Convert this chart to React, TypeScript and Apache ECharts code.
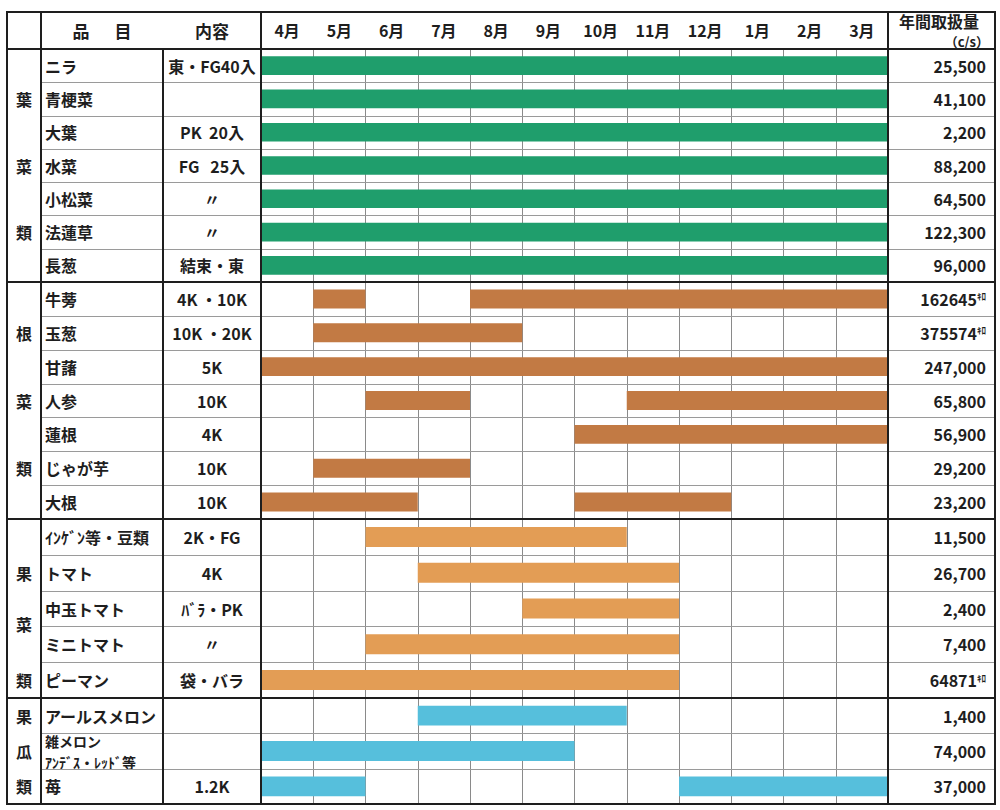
import React, { useEffect, useRef } from 'react';
import * as echarts from 'echarts';

const months = ['4月', '5月', '6月', '7月', '8月', '9月', '10月', '11月', '12月', '1月', '2月', '3月'];

// 葉菜類
const leafChars = ['', '葉', '', '菜', '', '類', ''];
const leafNames = ['ニラ', '青梗菜', '大葉', '水菜', '小松菜', '法蓮草', '長葱'];
const leafContents = ['東・FG40入', '', 'PK  20入', 'FG   25入', '〃', '〃', '結束・東'];
const leafAmounts = ['25,500', '41,100', '2,200', '88,200', '64,500', '122,300', '96,000'];
const leafPeriods = [[[0, 12]], [[0, 12]], [[0, 12]], [[0, 12]], [[0, 12]], [[0, 12]], [[0, 12]]];

// 根菜類
const rootChars = ['', '根', '', '菜', '', '類', ''];
const rootNames = ['牛蒡', '玉葱', '甘藷', '人参', '蓮根', 'じゃが芋', '大根'];
const rootContents = ['4K ・10K', '10K ・20K', '5K', '10K', '4K', '10K', '10K'];
const rootAmounts = ['162645ｷﾛ', '375574ｷﾛ', '247,000', '65,800', '56,900', '29,200', '23,200'];
const rootPeriods = [[[1, 2], [4, 12]], [[1, 5]], [[0, 12]], [[2, 4], [7, 12]], [[6, 12]], [[1, 4]], [[0, 3], [6, 9]]];

// 果菜類
const fruitChars = ['', '果', '菜↓', '', '類'];
const fruitNames = ['ｲﾝｹﾞﾝ等・豆類', 'トマト', '中玉トマト', 'ミニトマト', 'ピーマン'];
const fruitContents = ['2K・FG', '4K', 'ﾊﾞﾗ・PK', '〃', '袋・バラ'];
const fruitAmounts = ['11,500', '26,700', '2,400', '7,400', '64871ｷﾛ'];
const fruitPeriods = [[[2, 7]], [[3, 8]], [[5, 8]], [[2, 8]], [[0, 8]]];

// 果瓜類
const melonChars = ['果', '瓜', '類'];
const melonNames = ['アールスメロン', '雑メロン\nｱﾝﾃﾞｽ・ﾚｯﾄﾞ等', '苺'];
const melonContents = ['', '', '1.2K'];
const melonAmounts = ['1,400', '74,000', '37,000'];
const melonPeriods = [[[3, 7]], [[0, 6]], [[0, 2], [8, 12]]];

const FONT = '"Noto Sans CJK JP", "Noto Sans", sans-serif';
const INK = '#1e1e1e';

const groups = [
  { chars: leafChars, names: leafNames, contents: leafContents, amounts: leafAmounts, periods: leafPeriods, color: '#1f9e6c', top: 49, bottom: 282 },
  { chars: rootChars, names: rootNames, contents: rootContents, amounts: rootAmounts, periods: rootPeriods, color: '#c27a44', top: 282, bottom: 519 },
  { chars: fruitChars, names: fruitNames, contents: fruitContents, amounts: fruitAmounts, periods: fruitPeriods, color: '#e39d55', top: 519, bottom: 698 },
  { chars: melonChars, names: melonNames, contents: melonContents, amounts: melonAmounts, periods: melonPeriods, color: '#56bfdc', top: 698, bottom: 804 },
];

const X0 = 7, C1 = 41, C2 = 163, C3 = 261, C4 = 888, X1 = 995, TOP = 12, HEAD = 49, BOTTOM = 804;

function buildOption() {
  const grid: any[] = [];
  const xAxis: any[] = [];
  const yAxis: any[] = [];
  const series: any[] = [];
  const graphic: any[] = [];

  const labelBase = { fontFamily: FONT, fontSize: 16, fontWeight: 'bold', color: INK, interval: 0, hideOverlap: false };

  groups.forEach((g, i) => {
    grid.push({ left: C3, width: C4 - C3, top: g.top, height: g.bottom - g.top });
    xAxis.push({
      type: 'value', gridIndex: i, min: 0, max: 12, interval: 1,
      axisLabel: { show: false }, axisLine: { show: false }, axisTick: { show: false },
      splitLine: { show: true, lineStyle: { color: '#8a8a8a', width: 1 } },
    });
    const yBase = { type: 'category', gridIndex: i, inverse: true, axisLine: { show: false }, axisTick: { show: false }, splitLine: { show: false } };
    const base = yAxis.length;
    yAxis.push({
      ...yBase, data: g.names, position: 'left',
      axisLabel: {
        ...labelBase, align: 'left', margin: C3 - 45,
        formatter: (v: string) => (v.includes('\n') ? v.split('\n').map((s) => '{m|' + s + '}').join('\n') : v),
        rich: { m: { fontFamily: FONT, fontSize: 14, fontWeight: 'bold', color: INK, lineHeight: 21 } },
      },
    });
    yAxis.push({ ...yBase, data: g.contents, position: 'left', axisLabel: { ...labelBase, align: 'center', margin: C3 - 212 } });
    yAxis.push({
      ...yBase, data: g.amounts, position: 'right',
      axisLabel: {
        ...labelBase, align: 'right', margin: 986 - C4,
        formatter: (v: string) => (v.endsWith('ｷﾛ') ? v.replace('ｷﾛ', '') + '{u|ｷﾛ}' : v),
        rich: { u: { fontFamily: FONT, fontSize: 9, fontWeight: 'bold', color: INK, padding: [0, 0, 4, 0] } },
      },
    });
    yAxis.push({
      ...yBase, data: g.chars, position: 'left',
      axisLabel: {
        ...labelBase, align: 'center', margin: C3 - 24,
        formatter: (v: string) => (v.endsWith('↓') ? '{low|' + v.replace('↓', '') + '}' : v),
        rich: { low: { fontFamily: FONT, fontSize: 16, fontWeight: 'bold', color: INK, padding: [30, 0, 0, 0] } },
      },
    });

    const data: any[] = [];
    g.periods.forEach((segs, row) => segs.forEach((s) => data.push([s[0], s[1], row])));
    const color = g.color;
    series.push({
      type: 'custom', xAxisIndex: i, yAxisIndex: base, data,
      encode: { x: [0, 1], y: 2 },
      renderItem: (params: any, api: any) => {
        const row = api.value(2);
        const s = api.coord([api.value(0), row]);
        const e = api.coord([api.value(1), row]);
        const h = api.size([0, 1])[1] * 0.56;
        return { type: 'rect', shape: { x: s[0], y: s[1] - h / 2, width: e[0] - s[0], height: h }, style: { fill: color } };
      },
    });

    // row separator lines
    const n = g.names.length;
    const rh = (g.bottom - g.top) / n;
    for (let k = 1; k < n; k++) {
      const y = Math.round(g.top + k * rh) + 0.5;
      graphic.push({ type: 'line', z: 1, shape: { x1: C1, y1: y, x2: X1, y2: y }, style: { stroke: '#9a9a9a', lineWidth: 1 } });
    }
    if (i > 0) {
      graphic.push({ type: 'line', z: 50, shape: { x1: X0, y1: g.top, x2: X1, y2: g.top }, style: { stroke: INK, lineWidth: 2 } });
    }
  });

  // months header axis
  xAxis.push({
    type: 'category', gridIndex: 0, position: 'top', data: months, boundaryGap: true,
    axisLine: { show: false }, axisTick: { show: false }, splitLine: { show: false },
    axisLabel: { fontFamily: FONT, fontSize: 16, fontWeight: 'bold', color: INK, margin: 11, interval: 0 },
  });

  // frame
  const thick = { stroke: INK, lineWidth: 2 };
  graphic.push({ type: 'rect', z: 50, shape: { x: X0, y: TOP, width: X1 - X0, height: BOTTOM - TOP }, style: { fill: 'none', ...thick } });
  graphic.push({ type: 'line', z: 50, shape: { x1: X0, y1: HEAD, x2: X1, y2: HEAD }, style: thick });
  graphic.push({ type: 'line', z: 50, shape: { x1: C1, y1: TOP, x2: C1, y2: BOTTOM }, style: thick });
  graphic.push({ type: 'line', z: 50, shape: { x1: C2, y1: HEAD, x2: C2, y2: BOTTOM }, style: thick });
  graphic.push({ type: 'line', z: 50, shape: { x1: C3, y1: TOP, x2: C3, y2: BOTTOM }, style: thick });
  graphic.push({ type: 'line', z: 50, shape: { x1: C4, y1: TOP, x2: C4, y2: BOTTOM }, style: thick });

  const headText = (text: string, x: number, y: number, align: string, size: number) => ({
    type: 'text', z: 60, x, y,
    style: { text, fontFamily: FONT, fontSize: size, fontWeight: 'bold', fill: INK, align, verticalAlign: 'middle' },
  });
  graphic.push(headText('品', 81, 30, 'center', 17));
  graphic.push(headText('目', 123, 30, 'center', 17));
  graphic.push(headText('内容', 212, 30, 'center', 17));
  graphic.push(headText('年間取扱量', 939, 21, 'center', 16));
  graphic.push(headText('（c/s）', 989, 41, 'right', 13));

  return { animation: false, backgroundColor: '#ffffff', grid, xAxis, yAxis, series, graphic };
}

export default function App() {
  const ref = useRef<HTMLDivElement>(null);
  useEffect(() => {
    if (!ref.current) return;
    const chart = echarts.init(ref.current, undefined, { renderer: 'svg' });
    chart.setOption(buildOption() as any);
    return () => chart.dispose();
  }, []);
  return <div ref={ref} style={{ position: 'absolute', left: 0, top: 0, width: 1000, height: 810, background: '#fff' }} />;
}
